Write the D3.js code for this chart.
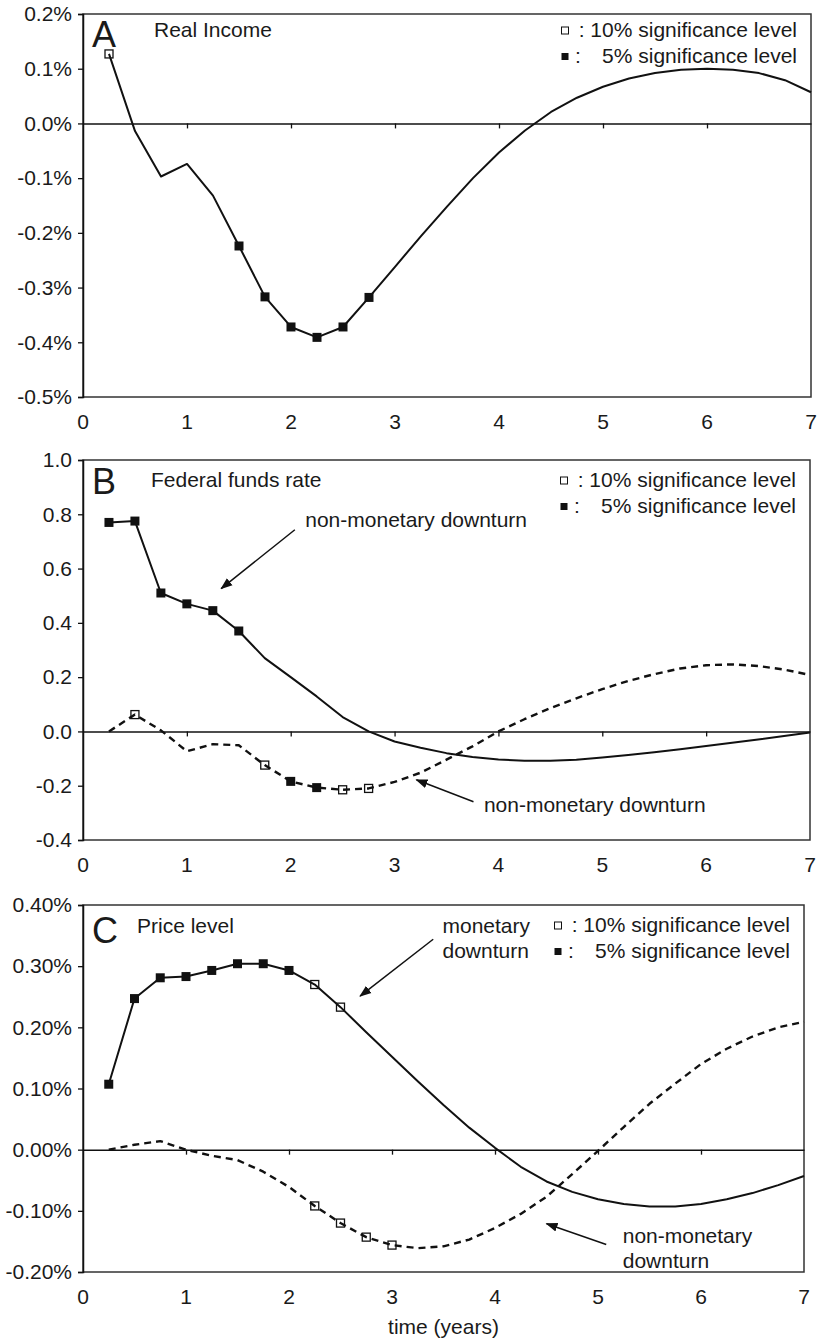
<!DOCTYPE html>
<html><head><meta charset="utf-8">
<script src="https://cdn.jsdelivr.net/npm/d3@7"></script>
<style>
body{margin:0;background:#fff}
text{font-family:"Liberation Sans",Arial,Helvetica,sans-serif;fill:#1a1a1a}
</style>
</head><body>
<svg id="chart" width="818" height="1340"></svg>
<script>
// ---------------- DATA ----------------
const quarters = [0.25,0.5,0.75,1,1.25,1.5,1.75,2,2.25,2.5,2.75,3,3.25,3.5,3.75,4,4.25,4.5,4.75,5,5.25,5.5,5.75,6,6.25,6.5,6.75,7];
const xTicks = [0,1,2,3,4,5,6,7];
const xTickLabels = ["0","1","2","3","4","5","6","7"];

// Panel A: Real income (%)
const incomeMonetary = [0.127,-0.014,-0.097,-0.074,-0.132,-0.224,-0.317,-0.372,-0.391,-0.372,-0.318,-0.262,-0.206,-0.152,-0.100,-0.053,-0.013,0.021,0.047,0.067,0.082,0.092,0.098,0.100,0.098,0.092,0.079,0.057];
const incomeSig10 = [0.25];
const incomeSig5 = [1.5,1.75,2,2.25,2.5,2.75];
const incomeTicks = [0.2,0.1,0,-0.1,-0.2,-0.3,-0.4,-0.5];
const incomeTickLabels = ["0.2%","0.1%","0.0%","-0.1%","-0.2%","-0.3%","-0.4%","-0.5%"];

// Panel B: Federal funds rate
const ffrSolid = [0.77,0.775,0.51,0.47,0.445,0.37,0.27,0.20,0.129,0.053,0.0,-0.037,-0.060,-0.080,-0.094,-0.103,-0.108,-0.108,-0.104,-0.096,-0.087,-0.077,-0.066,-0.054,-0.042,-0.030,-0.017,-0.004];
const ffrSolidSig10 = [];
const ffrSolidSig5 = [0.25,0.5,0.75,1,1.25,1.5];
const ffrDashed = [0.0,0.062,0.004,-0.073,-0.047,-0.051,-0.124,-0.184,-0.207,-0.215,-0.210,-0.186,-0.152,-0.104,-0.055,0.0,0.045,0.086,0.122,0.156,0.186,0.211,0.232,0.244,0.247,0.241,0.228,0.208];
const ffrDashedSig10 = [0.5,1.75,2.5,2.75];
const ffrDashedSig5 = [2,2.25];
const ffrTicks = [1.0,0.8,0.6,0.4,0.2,0,-0.2,-0.4];
const ffrTickLabels = ["1.0","0.8","0.6","0.4","0.2","0.0","-0.2","-0.4"];

// Panel C: Price level (%)
const priceSolid = [0.107,0.247,0.281,0.283,0.293,0.304,0.304,0.293,0.270,0.233,0.192,0.152,0.112,0.073,0.036,0.003,-0.028,-0.052,-0.069,-0.081,-0.089,-0.093,-0.093,-0.089,-0.081,-0.071,-0.058,-0.043];
const priceSolidSig10 = [2.25,2.5];
const priceSolidSig5 = [0.25,0.5,0.75,1,1.25,1.5,1.75,2];
const priceDashed = [0.0,0.008,0.014,0.0,-0.010,-0.017,-0.036,-0.061,-0.092,-0.120,-0.143,-0.156,-0.161,-0.158,-0.147,-0.128,-0.105,-0.077,-0.040,-0.002,0.037,0.075,0.108,0.140,0.165,0.185,0.200,0.209];
const priceDashedSig10 = [2.25,2.5,2.75,3];
const priceDashedSig5 = [];
const priceTicks = [0.4,0.3,0.2,0.1,0,-0.1,-0.2];
const priceTickLabels = ["0.40%","0.30%","0.20%","0.10%","0.00%","-0.10%","-0.20%"];

const legendLabels = [": 10% significance level", "5% significance level"];

// ---------------- DRAW ----------------
const svg = d3.select("#chart");
const FS = 21;
const defs = svg.append("defs");
defs.append("marker").attr("id","arrow").attr("viewBox","0 0 12 10")
  .attr("refX",11).attr("refY",5).attr("markerWidth",12).attr("markerHeight",10)
  .attr("markerUnits","userSpaceOnUse").attr("orient","auto")
  .append("path").attr("d","M0,0.5 L12,5 L0,9.5 Z").attr("fill","#111");

const panels = [
  {letter:"A", title:"Real Income", box:{l:83,r:811,t:14,b:397}, dom:[-0.5,0.2],
   ticks:incomeTicks, labels:incomeTickLabels, titleDy:23, letterDy:33, legendDy:23,
   series:[{v:incomeMonetary, dash:false, s10:incomeSig10, s5:incomeSig5}],
   notes:[]},
  {letter:"B", title:"Federal funds rate", box:{l:83,r:810,t:460,b:840}, dom:[-0.4,1.0],
   ticks:ffrTicks, labels:ffrTickLabels, titleDy:27, letterDy:34, legendDy:27,
   series:[{v:ffrSolid, dash:false, s10:ffrSolidSig10, s5:ffrSolidSig5},
           {v:ffrDashed, dash:true, s10:ffrDashedSig10, s5:ffrDashedSig5}],
   notes:[{lines:["non-monetary downturn"], tx:2.14, ty:0.754, from:[2.04,0.743], to:[1.33,0.526]},
          {lines:["non-monetary downturn"], tx:3.86, ty:-0.295, from:[3.76,-0.259], to:[3.21,-0.178]}]},
  {letter:"C", title:"Price level", box:{l:83,r:804,t:905,b:1272}, dom:[-0.2,0.4],
   ticks:priceTicks, labels:priceTickLabels, titleDy:28, letterDy:38, legendDy:27,
   series:[{v:priceSolid, dash:false, s10:priceSolidSig10, s5:priceSolidSig5},
           {v:priceDashed, dash:true, s10:priceDashedSig10, s5:priceDashedSig5}],
   notes:[{lines:["monetary","downturn"], tx:3.49, ty:0.355, from:[3.40,0.344], to:[2.69,0.251]},
          {lines:["non-monetary","downturn"], tx:5.24, ty:-0.152, from:[5.08,-0.155], to:[4.50,-0.121]}]}
];

panels.forEach(p => {
  const b = p.box;
  const x = d3.scaleLinear().domain([0,7]).range([b.l,b.r]);
  const y = d3.scaleLinear().domain(p.dom).range([b.b,b.t]);
  const g = svg.append("g");

  // plot border
  g.append("rect").attr("x",b.l).attr("y",b.t).attr("width",b.r-b.l).attr("height",b.b-b.t)
    .attr("fill","none").attr("stroke","#333").attr("stroke-width",1.5);

  // y axis
  const ya = g.append("g").attr("transform",`translate(${b.l},0)`)
    .call(d3.axisLeft(y).tickValues(p.ticks).tickFormat((d,i)=>p.labels[i]).tickSize(5).tickPadding(6));
  ya.select(".domain").attr("stroke","#111").attr("stroke-width",1.5);
  ya.selectAll(".tick line").attr("stroke","#111").attr("stroke-width",1.3);
  ya.selectAll(".tick text").attr("font-size",FS).attr("font-family","Liberation Sans, Arial, sans-serif").attr("fill","#1a1a1a");

  // zero axis with ticks
  const xa = g.append("g").attr("transform",`translate(0,${y(0)})`)
    .call(d3.axisBottom(x).tickValues(xTicks.slice(1,-1)).tickFormat("").tickSize(5).tickSizeOuter(0));
  xa.select(".domain").attr("stroke","#111").attr("stroke-width",1.5);
  xa.selectAll(".tick line").attr("stroke","#111").attr("stroke-width",1.3);

  // bottom labels
  g.selectAll(".xl").data(xTicks).enter().append("text")
    .attr("x",d=>x(d)).attr("y",b.b+32).attr("text-anchor","middle").attr("font-size",FS)
    .text((d,i)=>xTickLabels[i]);

  // series
  const line = d3.line().x((d,i)=>x(quarters[i])).y(d=>y(d));
  p.series.forEach(s => {
    g.append("path").datum(s.v).attr("d",line).attr("fill","none")
      .attr("stroke","#111").attr("stroke-width",s.dash?2.4:2)
      .attr("stroke-dasharray",s.dash?"7,5":null).attr("stroke-linejoin","round");
    const valAt = q => s.v[quarters.indexOf(q)];
    g.selectAll(null).data(s.s5).enter().append("rect")
      .attr("x",d=>x(d)-4.5).attr("y",d=>y(valAt(d))-4.5).attr("width",9).attr("height",9)
      .attr("fill","#111");
    g.selectAll(null).data(s.s10).enter().append("rect")
      .attr("x",d=>x(d)-4).attr("y",d=>y(valAt(d))-4).attr("width",8).attr("height",8)
      .attr("fill","none").attr("stroke","#111").attr("stroke-width",1.3);
  });

  // letter and title
  g.append("text").attr("x",b.l+9).attr("y",b.t+p.letterDy).attr("font-size",36).text(p.letter);
  const titleX = {A:154,B:151,C:137}[p.letter];
  g.append("text").attr("x",titleX).attr("y",b.t+p.titleDy).attr("font-size",FS).text(p.title);

  // legend
  const ly1 = b.t+p.legendDy, ly2 = ly1+26;
  const lx = b.r-246;
  g.append("rect").attr("x",lx-3.5).attr("y",ly1-10).attr("width",7).attr("height",7)
    .attr("fill","none").attr("stroke","#111").attr("stroke-width",1);
  g.append("text").attr("x",b.r-14).attr("y",ly1).attr("text-anchor","end").attr("font-size",FS).text(legendLabels[0]);
  g.append("rect").attr("x",lx-3.5).attr("y",ly2-10).attr("width",7).attr("height",7).attr("fill","#111");
  g.append("text").attr("x",b.r-236).attr("y",ly2).attr("font-size",FS).text(":");
  g.append("text").attr("x",b.r-14).attr("y",ly2).attr("text-anchor","end").attr("font-size",FS).text(legendLabels[1]);

  // annotations
  p.notes.forEach(n => {
    g.append("line").attr("x1",x(n.from[0])).attr("y1",y(n.from[1]))
      .attr("x2",x(n.to[0])).attr("y2",y(n.to[1]))
      .attr("stroke","#111").attr("stroke-width",1.5).attr("marker-end","url(#arrow)");
    n.lines.forEach((t,i)=>{
      g.append("text").attr("x",x(n.tx)).attr("y",y(n.ty)+i*25).attr("font-size",FS).text(t);
    });
  });

  if (p.letter==="C") {
    g.append("text").attr("x",(b.l+b.r)/2).attr("y",b.b+62).attr("text-anchor","middle")
      .attr("font-size",FS).text("time (years)");
  }
});
</script>
</body></html>
